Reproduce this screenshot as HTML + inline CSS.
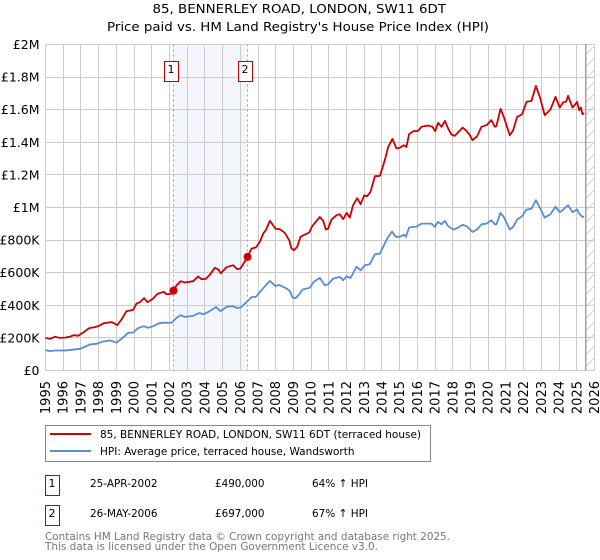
<!DOCTYPE html>
<html>
<head>
<meta charset="utf-8">
<style>
html,body{margin:0;padding:0;background:#fff;}
svg{display:block;}
text{font-family:"DejaVu Sans","Liberation Sans",sans-serif;}
</style>
</head>
<body>
<svg id="chart" width="600" height="560" viewBox="0 0 600 560" xmlns="http://www.w3.org/2000/svg">
  <defs>
    <pattern id="hatch" patternUnits="userSpaceOnUse" x="585.5" y="44.5" width="12" height="12">
      <line x1="0" y1="10.5" x2="9" y2="1.5" stroke="#d4d4d4" stroke-width="1"/>
    </pattern>
  </defs>
  <text x="152.5" y="13" font-size="12.5" textLength="293.5" lengthAdjust="spacingAndGlyphs" fill="#000">85, BENNERLEY ROAD, LONDON, SW11 6DT</text>
  <text x="107" y="31" font-size="12.5" textLength="382" lengthAdjust="spacingAndGlyphs" fill="#000">Price paid vs. HM Land Registry's House Price Index (HPI)</text>
  <g id="shade-layer"></g>
  <g id="grid-layer"></g>
  <g id="marker-line-layer"></g>
  <g id="series-layer"></g>
  <g id="tick-layer"></g>

  <rect x="45.5" y="425.5" width="385" height="36" fill="#fff" stroke="#888" stroke-width="1"/>
  <line x1="50" y1="434" x2="91" y2="434" stroke="#cc0000" stroke-width="2"/>
  <text x="100" y="438" font-size="11" textLength="321" lengthAdjust="spacingAndGlyphs" fill="#000">85, BENNERLEY ROAD, LONDON, SW11 6DT (terraced house)</text>
  <line x1="50" y1="451" x2="91" y2="451" stroke="#5b8bd0" stroke-width="2"/>
  <text x="100" y="455" font-size="11" textLength="254.5" lengthAdjust="spacingAndGlyphs" fill="#000">HPI: Average price, terraced house, Wandsworth</text>

  <rect x="45.5" y="475.5" width="14" height="20" fill="#fff" stroke="#bb0000" stroke-width="1"/>
  <text x="52" y="487" text-anchor="middle" font-size="11" fill="#000">1</text>
  <text x="90" y="487" font-size="11" textLength="67.5" lengthAdjust="spacingAndGlyphs" fill="#000">25-APR-2002</text>
  <text x="215" y="487" font-size="11" textLength="49.5" lengthAdjust="spacingAndGlyphs" fill="#000">£490,000</text>
  <text x="312" y="487" font-size="11" textLength="56" lengthAdjust="spacingAndGlyphs" fill="#000">64% ↑ HPI</text>

  <rect x="45.5" y="505.5" width="14" height="20" fill="#fff" stroke="#bb0000" stroke-width="1"/>
  <text x="52" y="517" text-anchor="middle" font-size="11" fill="#000">2</text>
  <text x="90" y="517" font-size="11" textLength="67.5" lengthAdjust="spacingAndGlyphs" fill="#000">26-MAY-2006</text>
  <text x="215" y="517" font-size="11" textLength="49.5" lengthAdjust="spacingAndGlyphs" fill="#000">£697,000</text>
  <text x="312" y="517" font-size="11" textLength="56" lengthAdjust="spacingAndGlyphs" fill="#000">67% ↑ HPI</text>

  <text x="45" y="540" font-size="11" textLength="405" lengthAdjust="spacingAndGlyphs" fill="#777">Contains HM Land Registry data © Crown copyright and database right 2025.</text>
  <text x="45" y="550" font-size="11" textLength="333" lengthAdjust="spacingAndGlyphs" fill="#777">This data is licensed under the Open Government Licence v3.0.</text>
</svg>
<script>
const yearTicks = [1995,1996,1997,1998,1999,2000,2001,2002,2003,2004,2005,2006,2007,2008,2009,2010,2011,2012,2013,2014,2015,2016,2017,2018,2019,2020,2021,2022,2023,2024,2025,2026];
const valueTicks = [0,200,400,600,800,1000,1200,1400,1600,1800,2000];
const valueTickLabels = ['£0','£200K','£400K','£600K','£800K','£1M','£1.2M','£1.4M','£1.6M','£1.8M','£2M'];

const priceYears = [1995,1995.25,1995.53,1995.81,1996.09,1996.37,1996.6,1996.84,1997.13,1997.47,1997.79,1998.03,1998.29,1998.73,1998.91,1999.05,1999.29,1999.57,1999.95,2000.14,2000.33,2000.57,2000.76,2001.08,2001.32,2001.68,2001.83,2002.11,2002.23,2002.4,2002.64,2002.87,2003.34,2003.62,2003.81,2004.05,2004.28,2004.56,2004.75,2004.9,2005.22,2005.6,2005.82,2006.01,2006.41,2006.63,2006.88,2007.1,2007.29,2007.44,2007.67,2008,2008.23,2008.51,2008.76,2008.89,2009.02,2009.21,2009.4,2009.64,2009.89,2010.06,2010.49,2010.68,2010.83,2010.96,2011.15,2011.43,2011.62,2011.81,2012,2012.18,2012.37,2012.6,2012.79,2013,2013.16,2013.35,2013.6,2013.88,2014.16,2014.35,2014.59,2014.82,2015.01,2015.23,2015.38,2015.53,2015.76,2016.04,2016.23,2016.6,2016.85,2017,2017.17,2017.36,2017.55,2017.74,2017.92,2018.11,2018.55,2018.77,2018.96,2019.11,2019.37,2019.62,2019.9,2020.18,2020.37,2020.46,2020.69,2020.88,2021.22,2021.41,2021.63,2021.91,2022.16,2022.44,2022.69,2022.91,2023.19,2023.51,2023.8,2024.04,2024.23,2024.4,2024.51,2024.76,2025.02,2025.13,2025.23,2025.32,2025.41];
const priceValues = [200,194,207,200,202,207,217,213,233,260,266,274,290,297,288,278,313,364,372,411,419,444,419,442,470,483,468,470,490,523,548,540,548,577,560,562,587,630,620,597,634,646,622,626,697,748,755,789,840,861,918,869,867,845,799,748,738,758,820,834,846,885,942,918,865,871,926,953,959,928,967,938,1014,1057,1020,1075,1069,1096,1192,1194,1290,1372,1421,1362,1366,1382,1372,1450,1468,1470,1495,1503,1495,1468,1519,1495,1531,1484,1448,1439,1490,1470,1444,1413,1437,1495,1505,1536,1495,1499,1605,1556,1443,1474,1556,1572,1648,1654,1746,1679,1566,1601,1679,1613,1646,1650,1685,1613,1648,1597,1613,1572,1580];

const hpiYears = [1995,1995.24,1995.53,1995.81,1996.09,1996.47,1996.94,1997.22,1997.5,1997.88,1998.25,1998.63,1999.01,1999.29,1999.67,1999.95,2000.23,2000.55,2000.8,2001.08,2001.42,2001.74,2002.11,2002.4,2002.62,2002.87,2003.34,2003.66,2003.94,2004.18,2004.62,2004.88,2005.22,2005.56,2005.78,2006.01,2006.33,2006.63,2006.88,2007.29,2007.67,2008,2008.19,2008.61,2008.8,2008.95,2009.13,2009.36,2009.51,2009.92,2010.15,2010.49,2010.77,2010.96,2011.24,2011.62,2011.81,2012,2012.22,2012.56,2012.8,2013.03,2013.31,2013.6,2013.88,2014.16,2014.35,2014.57,2014.78,2015.01,2015.23,2015.35,2015.53,2015.95,2016.23,2016.79,2016.98,2017.17,2017.36,2017.55,2017.74,2018.02,2018.21,2018.55,2018.77,2019.11,2019.37,2019.62,2019.9,2020.18,2020.37,2020.46,2020.69,2020.88,2021.22,2021.41,2021.63,2021.91,2022.16,2022.44,2022.69,2022.91,2023.19,2023.51,2023.8,2024.04,2024.23,2024.51,2024.76,2025.02,2025.13,2025.32,2025.41];
const hpiValues = [125,119,123,123,123,127,133,145,160,164,178,184,172,194,231,233,260,272,262,272,290,294,292,323,339,329,335,352,346,358,389,364,391,395,384,386,417,450,452,505,550,517,526,503,487,448,444,472,497,507,544,568,523,529,564,574,554,578,568,636,615,646,652,713,717,779,820,852,820,820,834,820,877,883,901,901,881,912,897,918,885,865,871,893,885,850,865,897,901,922,897,897,967,942,865,881,926,946,987,993,1045,1000,938,959,1004,971,987,1014,971,989,963,942,946];

const saleYears = [2002.23,2006.41];
const salePrices = [490,697];
const saleLabels = ['1','2'];
const dataEndYear = 2025.51;

const NS = 'http://www.w3.org/2000/svg';
function make(tag, attrs, parent) {
  const el = document.createElementNS(NS, tag);
  for (const k in attrs) el.setAttribute(k, attrs[k]);
  parent.appendChild(el);
  return el;
}
const xScale = yr => 45.5 + (yr - 1995) * (549 / 31);
const yScale = v => 370.5 - v * 326 / 2000;
const crisp = p => Math.floor(p) + 0.5;

const shadeLayer = document.getElementById('shade-layer');
const gridLayer = document.getElementById('grid-layer');
const markerLineLayer = document.getElementById('marker-line-layer');
const seriesLayer = document.getElementById('series-layer');
const tickLayer = document.getElementById('tick-layer');

/* shaded hold period and forecast hatch */
const shade = make('rect', {x: xScale(saleYears[0]), y: 44.5, width: xScale(saleYears[1]) - xScale(saleYears[0]), height: 326, fill: '#f3f6fd'}, shadeLayer);


const hatch = make('rect', {x: crisp(xScale(dataEndYear)), y: 44.5, width: 594.5 - crisp(xScale(dataEndYear)), height: 326, fill: 'url(#hatch)'}, shadeLayer);



/* gridlines and tick labels */
yearTicks.forEach(function (yr) {
  const x = crisp(xScale(yr));
  const line = make('line', {x1: x, y1: 44.5, x2: x, y2: 370.5, stroke: '#cccccc', 'stroke-width': 1}, gridLayer);
  
  
  const label = make('text', {transform: 'translate(' + (xScale(yr) + 4.5) + ',381) rotate(-90)', 'text-anchor': 'end', 'font-size': 13, fill: '#000'}, tickLayer);
  label.textContent = String(yr);
  
  
});
valueTicks.forEach(function (v, i) {
  const y = crisp(yScale(v));
  const line = make('line', {x1: 45.5, y1: y, x2: 594.5, y2: y, stroke: '#cccccc', 'stroke-width': 1}, gridLayer);
  
  
  const label = make('text', {x: 39.5, y: yScale(v) + 4.5, 'text-anchor': 'end', 'font-size': 12.5, fill: '#000'}, tickLayer);
  label.textContent = valueTickLabels[i];
  
  
});

/* end-of-data rule */
const endRule = make('line', {x1: crisp(xScale(dataEndYear)) + 0.25, y1: 44.5, x2: crisp(xScale(dataEndYear)) + 0.25, y2: 370.5, stroke: '#a0a0a0', 'stroke-width': 1.5}, gridLayer);



/* dashed sale lines */
saleYears.forEach(function (yr) {
  const line = make('line', {x1: crisp(xScale(yr)), y1: 44.5, x2: crisp(xScale(yr)), y2: 370.5, stroke: '#f27a7a', 'stroke-width': 1, 'stroke-dasharray': '2 3'}, markerLineLayer);
  
  
});

/* series */
function pathFrom(years, values) {
  return years.map((yr, i) => xScale(yr).toFixed(1) + ',' + yScale(values[i]).toFixed(1)).join(' ');
}
const hpiLine = make('polyline', {points: pathFrom(hpiYears, hpiValues), fill: 'none', stroke: '#5b8bd0', 'stroke-width': 1.8, 'stroke-linejoin': 'round'}, seriesLayer);


const priceLine = make('polyline', {points: pathFrom(priceYears, priceValues), fill: 'none', stroke: '#cc0000', 'stroke-width': 1.8, 'stroke-linejoin': 'round'}, seriesLayer);



/* sale markers and numbered flags */
saleYears.forEach(function (yr, i) {
  const dot = make('circle', {cx: xScale(yr), cy: yScale(salePrices[i]), r: 4, fill: '#cc0000'}, seriesLayer);
  
  
  const bx = Math.round(xScale(yr)) - 10;
  const flag = make('rect', {x: bx + 0.5, y: 61.5, width: 14, height: 20, fill: '#fff', stroke: '#bb0000', 'stroke-width': 1}, seriesLayer);
  
  
  const num = make('text', {x: bx + 7, y: 73, 'text-anchor': 'middle', 'font-size': 11, fill: '#000'}, seriesLayer);
  num.textContent = saleLabels[i];
  
  
});
</script>
</body>
</html>
